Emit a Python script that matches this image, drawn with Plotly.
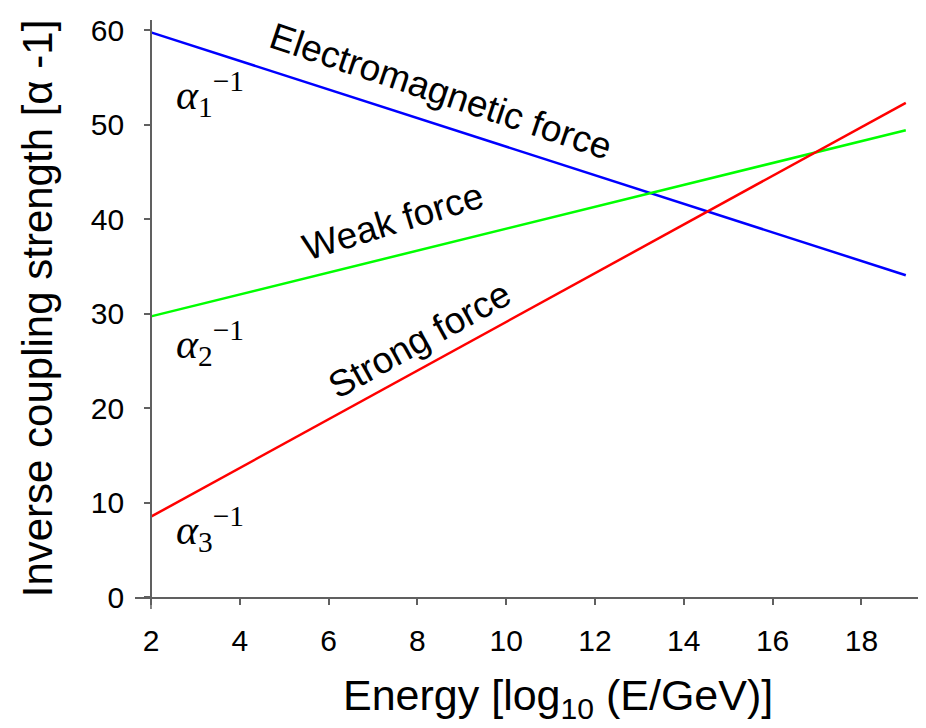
import plotly.graph_objects as go

# Data
energy = [2, 19]
em_inv = [59.75, 34.05]      # alpha_1^-1, electromagnetic
weak_inv = [29.7, 49.4]      # alpha_2^-1, weak
strong_inv = [8.5, 52.3]     # alpha_3^-1, strong
x_ticks = [2, 4, 6, 8, 10, 12, 14, 16, 18]
y_ticks = [0, 10, 20, 30, 40, 50, 60]

AXIS = "#606060"
SANS = "Liberation Sans, Arial, sans-serif"
SERIF = "Liberation Serif, Times New Roman, serif"

fig = go.Figure()
fig.add_trace(go.Scatter(x=energy, y=em_inv, mode="lines", line=dict(color="#0000FF", width=2.5), name="EM"))
fig.add_trace(go.Scatter(x=energy, y=weak_inv, mode="lines", line=dict(color="#00FF00", width=2.5), name="Weak"))
fig.add_trace(go.Scatter(x=energy, y=strong_inv, mode="lines", line=dict(color="#FF0000", width=2.5), name="Strong"))

W, H = 926, 728
OFF = 8  # page body offset in the browser
ml, mt = 135 - OFF, 20 - OFF
pw, ph = 785, 577
mr, mb = W - ml - pw, H - mt - ph
xr = [1.64, 19.32]
yr = [0, 61.06]
ypos = (2 - xr[0]) / (xr[1] - xr[0])

fig.update_layout(
    width=W, height=H,
    margin=dict(l=ml, r=mr, t=mt, b=mb, autoexpand=False),
    plot_bgcolor="white", paper_bgcolor="white",
    showlegend=False,
    xaxis=dict(range=xr, tickvals=x_ticks, showline=True, linecolor=AXIS, linewidth=1.5,
               ticks="outside", ticklen=6, tickcolor=AXIS, tickwidth=1.5,
               showgrid=False, zeroline=False, automargin=False,
               tickfont=dict(family=SANS, size=30, color="black"), ticklabelstandoff=10),
    yaxis=dict(range=yr, tickvals=y_ticks, showline=True, linecolor=AXIS, linewidth=1.5,
               anchor="free", position=ypos, automargin=False,
               ticks="outside", ticklen=6, tickcolor=AXIS, tickwidth=1.5,
               showgrid=False, zeroline=False,
               tickfont=dict(family=SANS, size=30, color="black"), ticklabelstandoff=14,
               title=dict(text="Inverse coupling strength [α -1]", font=dict(family=SANS, size=42, color="black"),
                          standoff=24)),
)

# y-axis line extends slightly below the x-axis
fig.add_shape(type="line", xref="x", yref="paper", x0=2, x1=2, y0=0, y1=-12 / ph,
              line=dict(color=AXIS, width=1.5))

# x-axis title
fig.add_annotation(text="Energy [log<sub>10</sub> (E/GeV)]", xref="paper", yref="paper",
                   x=(558 - 135) / pw, y=(597 - 698) / ph,
                   xanchor="center", yanchor="middle", showarrow=False,
                   font=dict(family=SANS, size=43, color="black"))

# force labels along the lines
fig.add_annotation(text="Electromagnetic force", x=8.53, y=53.5, textangle=18.5, showarrow=False,
                   font=dict(family=SANS, size=37, color="black"))
fig.add_annotation(text="Weak force", x=7.45, y=39.7, textangle=-17, showarrow=False,
                   font=dict(family=SANS, size=37, color="black"))
fig.add_annotation(text="Strong force", x=8.06, y=27.2, textangle=-29, showarrow=False,
                   font=dict(family=SANS, size=37, color="black"))

# alpha labels (reference pixel positions -> data)
px_x = lambda p: 2 + (p - 151) / 44.4
px_y = lambda p: (597 - p) / 9.45
for sub, acy in [("1", 93.5), ("2", 343), ("3", 528.5)]:
    fig.add_annotation(text=f"<i>α</i><sub>{sub}</sub><sup>−1</sup>", x=px_x(174), y=px_y(acy),
                       xanchor="left", yanchor="middle", showarrow=False,
                       font=dict(family=SERIF, size=42, color="black"))

fig.write_html("out.html")
